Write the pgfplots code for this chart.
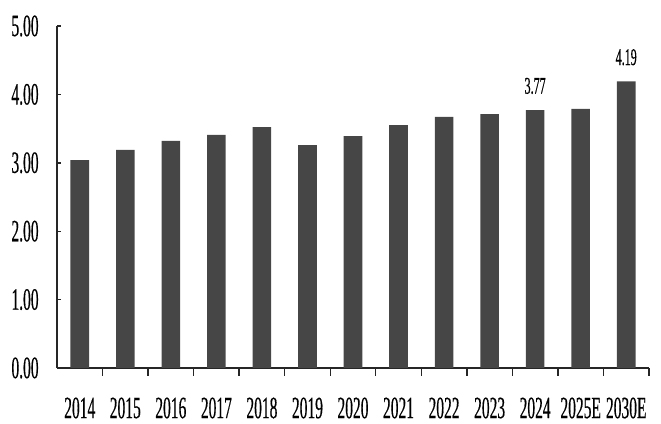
\documentclass[border=0pt]{standalone}
\usepackage{pgfplots}
\pgfplotsset{compat=1.18}
\usepackage{fontspec}
\setmainfont{Liberation Serif}[FakeStretch=0.5, FakeBold=0.4]
\definecolor{barc}{HTML}{464646}
\begin{document}
\begin{tikzpicture}
\begin{axis}[
  scale only axis,
  width=296pt, height=171pt,
  ymin=0, ymax=5,
  xmin=-0.5, xmax=12.5,
  axis x line*=bottom, axis y line*=left,
  axis line style={line width=0.9pt, black!85},
  ytick={0,1,2,3,4,5},
  yticklabel style={/pgf/number format/.cd, fixed, fixed zerofill, precision=2, /tikz/.cd},
  /pgf/number format/assume math mode=true,
  y tick label style={font=\fontsize{15.5}{17}\selectfont, inner sep=0pt, xshift=-9pt},
  x tick label style={font=\fontsize{15.5}{17}\selectfont, inner sep=0pt, anchor=center, yshift=-18pt},
  xtick={0,...,12},
  xticklabels={2014,2015,2016,2017,2018,2019,2020,2021,2022,2023,2024,2025E,2030E},
  major x tick style={draw=none},
  minor xtick={0.5,1.5,...,12.5},
  minor x tick style={line width=0.7pt, black!85},
  minor tick length=4pt,
  major tick length=2pt,
  tick align=inside,
  y tick style={line width=0.7pt, black!85},
  ybar, bar width=9.3pt, bar shift=0pt,
]
\addplot[fill=barc, draw=none] coordinates {
(0,3.04) (1,3.19) (2,3.32) (3,3.41) (4,3.52) (5,3.26) (6,3.39)
(7,3.55) (8,3.67) (9,3.71) (10,3.77) (11,3.79) (12,4.19)};
\addplot[draw=none, fill=none, forget plot,
  nodes near coords,
  nodes near coords style={font=\fontsize{12}{13}\selectfont, anchor=south, yshift=4.5pt, text=black,
    /pgf/number format/.cd, fixed, fixed zerofill, precision=2}]
  coordinates {(10,3.77) (12,4.19)};
\end{axis}
\pgfresetboundingbox
\useasboundingbox (-28.5pt,-28pt) rectangle (302pt,184pt);
\end{tikzpicture}
\end{document}
